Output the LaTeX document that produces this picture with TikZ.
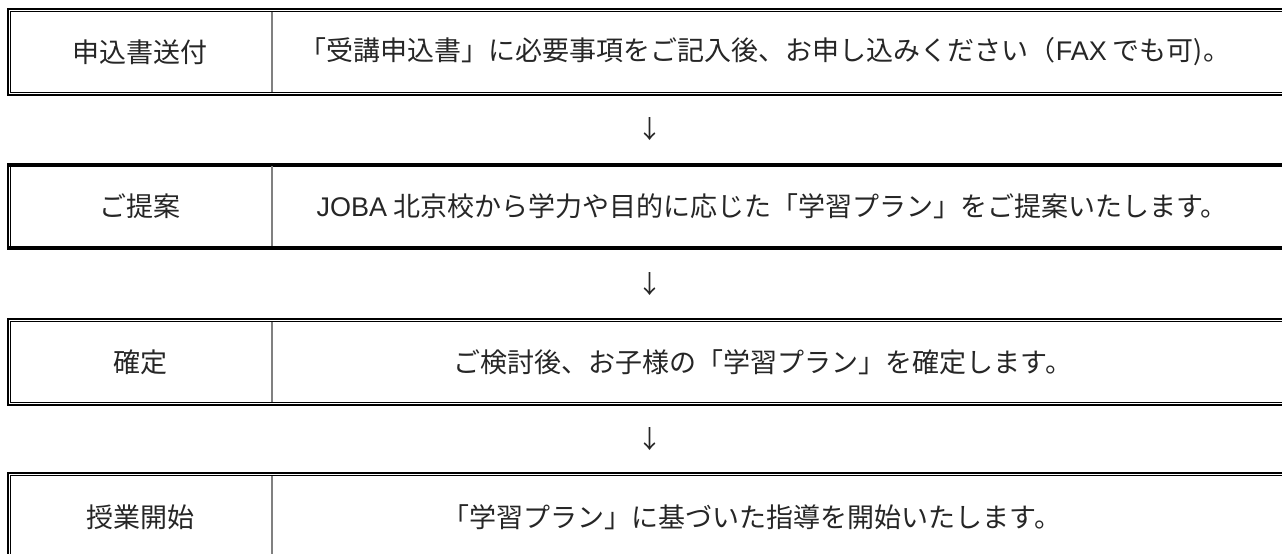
\documentclass[tikz,border=0pt]{standalone}
\usepackage{fontspec}
\setmainfont{Noto Sans CJK JP}
\newfontfamily\lat{Liberation Sans}
\begin{document}
\begin{tikzpicture}[x=1pt,y=-1pt,
  lbl/.style={inner sep=0pt, font=\fontsize{27}{31}\selectfont, text=black!85},
  outerline/.style={line width=2pt},
  innerline/.style={line width=1.2pt},
  thickline/.style={line width=4pt},
  divider/.style={line width=1.5pt, draw=black!50},
  arrowtxt/.style={inner sep=0pt, font=\fontsize{25}{29}\selectfont, text=black!85}]
\useasboundingbox[fill=white] (0,0) rectangle (1282,554);

% ---- row 1 (double border)
\draw[outerline] (1290,9) -- (8,9) -- (8,95) -- (1290,95);
\draw[innerline] (1290,11.7) -- (10.7,11.7) -- (10.7,92.3) -- (1290,92.3);
\draw[divider] (272,12) -- (272,92);
\node[lbl] (s1) at (140,52) {申込書送付};
\node[lbl] (d1) at (765,52) {「受講申込書」に必要事項をご記入後、お申し込みください（{\lat FAX} でも可)。};

% ---- row 2 (thick single top/bottom, double left)
\draw[thickline] (7,164.7) -- (1290,164.7);
\draw[thickline] (7,248) -- (1290,248);
\draw[outerline] (8,164) -- (8,249);
\draw[innerline] (10.7,165) -- (10.7,247);
\draw[divider] (272,166) -- (272,246);
\node[lbl] (s2) at (140,206.4) {ご提案};
\node[lbl] (d2) at (772,206.4) {{\lat JOBA} 北京校から学力や目的に応じた「学習プラン」をご提案いたします。};

% ---- row 3 (double border)
\draw[outerline] (1290,319) -- (8,319) -- (8,405) -- (1290,405);
\draw[innerline] (1290,321.7) -- (10.7,321.7) -- (10.7,402.3) -- (1290,402.3);
\draw[divider] (272,322) -- (272,402);
\node[lbl] (s3) at (140,362) {確定};
\node[lbl] (d3) at (763,362) {ご検討後、お子様の「学習プラン」を確定します。};

% ---- row 4 (double border, cut at bottom)
\draw[outerline] (1290,473) -- (8,473) -- (8,560);
\draw[innerline] (1290,475.8) -- (10.7,475.8) -- (10.7,560);
\draw[divider] (272,476) -- (272,560);
\node[lbl] (s4) at (140,517) {授業開始};
\node[lbl] (d4) at (752,517) {「学習プラン」に基づいた指導を開始いたします。};

% ---- arrows
\node[arrowtxt] (a1) at (650,129) {↓};
\node[arrowtxt] (a2) at (650,284) {↓};
\node[arrowtxt] (a3) at (650,439) {↓};
\end{tikzpicture}
\end{document}
